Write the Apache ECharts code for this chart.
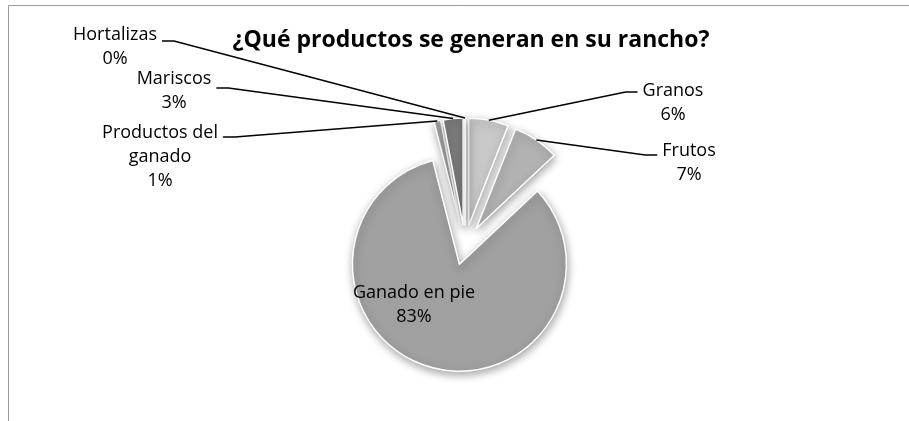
<!DOCTYPE html>
<html>
<head>
<meta charset="utf-8">
<script src="https://cdn.jsdelivr.net/npm/echarts@6/dist/echarts.min.js"></script>
<style>
  html, body { margin: 0; padding: 0; background: #ffffff; }
  #chart { width: 909px; height: 421px; }
</style>
</head>
<body>
<div id="chart"></div>
<script>
// Product categories and their share (%) of ranch output
const categories = ['Granos', 'Frutos', 'Ganado en pie', 'Productos del ganado', 'Mariscos', 'Hortalizas'];
const shares = [6, 7, 83, 1, 3, 0];
const sliceColors = ['#c8c8c8', '#b2b2b2', '#a0a0a0', '#a8a8a8', '#7b7b7b', '#bcbcbc'];
const titleText = '¿Qué productos se generan en su rancho?';

// Label boxes: centre x, top of box, and top padding (the leader line meets the box at its middle)
const labelSpots = [
  { x: 673, y: 57, pad: 22 },
  { x: 689, y: 123, pad: 16 },
  { x: 414, y: 281, pad: 0 },
  { x: 160, y: 81, pad: 40 },
  { x: 174, y: 61, pad: 6 },
  { x: 115, y: 11, pad: 12 }
];

const FONT = '"Open Sans", sans-serif';
const PIE_CENTER = [465, 245];
const PIE_RADIUS = 107;
const EXPLODE = 20;

// Exploded slices (drawn, no labels)
const sliceData = categories.map(function (name, i) {
  return { name: name, value: shares[i], selected: true, itemStyle: { color: sliceColors[i] } };
});

// Invisible twin ring reaching the exploded outer edge; carries labels and leader lines
const labelData = categories.map(function (name, i) {
  const spot = labelSpots[i];
  const item = {
    name: name,
    value: shares[i],
    label: { padding: [spot.pad, 5, 0, 5] }
  };
  if (name === 'Ganado en pie') {
    item.label.position = 'inside';
    item.labelLine = { show: false };
  }
  return item;
});

const chart = echarts.init(document.getElementById('chart'), null, { renderer: 'canvas' });

chart.setOption({
  animation: false,
  backgroundColor: '#ffffff',
  graphic: [
    {
      type: 'rect',
      z: -10,
      shape: { x: 8.5, y: 5.5, width: 1200, height: 1200 },
      style: { fill: 'none', stroke: '#9a9a9a', lineWidth: 1 }
    },
    {
      type: 'text',
      x: 471,
      y: 40,
      style: {
        text: titleText,
        font: 'bold 23px ' + FONT,
        fill: '#000000',
        textAlign: 'center',
        textVerticalAlign: 'middle'
      }
    }
  ],
  series: [
    {
      type: 'pie',
      z: 2,
      silent: true,
      center: PIE_CENTER,
      radius: PIE_RADIUS,
      startAngle: 90,
      clockwise: true,
      selectedMode: 'multiple',
      selectedOffset: EXPLODE,
      emphasis: { disabled: true },
      itemStyle: {
        borderColor: '#ffffff',
        borderWidth: 1.5,
        shadowBlur: 8,
        shadowOffsetX: 1,
        shadowOffsetY: 3,
        shadowColor: 'rgba(0,0,0,0.35)'
      },
      label: { show: false },
      labelLine: { show: false },
      data: sliceData
    },
    {
      type: 'pie',
      z: 3,
      silent: true,
      center: PIE_CENTER,
      radius: PIE_RADIUS + EXPLODE,
      startAngle: 90,
      clockwise: true,
      avoidLabelOverlap: false,
      emphasis: { disabled: true },
      itemStyle: { color: 'rgba(0,0,0,0)', borderWidth: 0 },
      label: {
        show: true,
        position: 'outside',
        color: '#000000',
        fontFamily: FONT,
        fontSize: 18,
        lineHeight: 24,
        align: 'center',
        formatter: function (p) {
          const text = p.name.replace('del ganado', 'del\nganado');
          return text + '\n' + Math.round(p.percent) + '%';
        }
      },
      labelLine: {
        show: true,
        length: 20,
        length2: 12,
        lineStyle: { color: '#000000', width: 1.5 }
      },
      labelLayout: function (p) {
        const s = labelSpots[p.dataIndex];
        return { x: s.x, y: s.y, align: 'center', verticalAlign: 'top' };
      },
      data: labelData
    }
  ]
});
</script>
</body>
</html>
